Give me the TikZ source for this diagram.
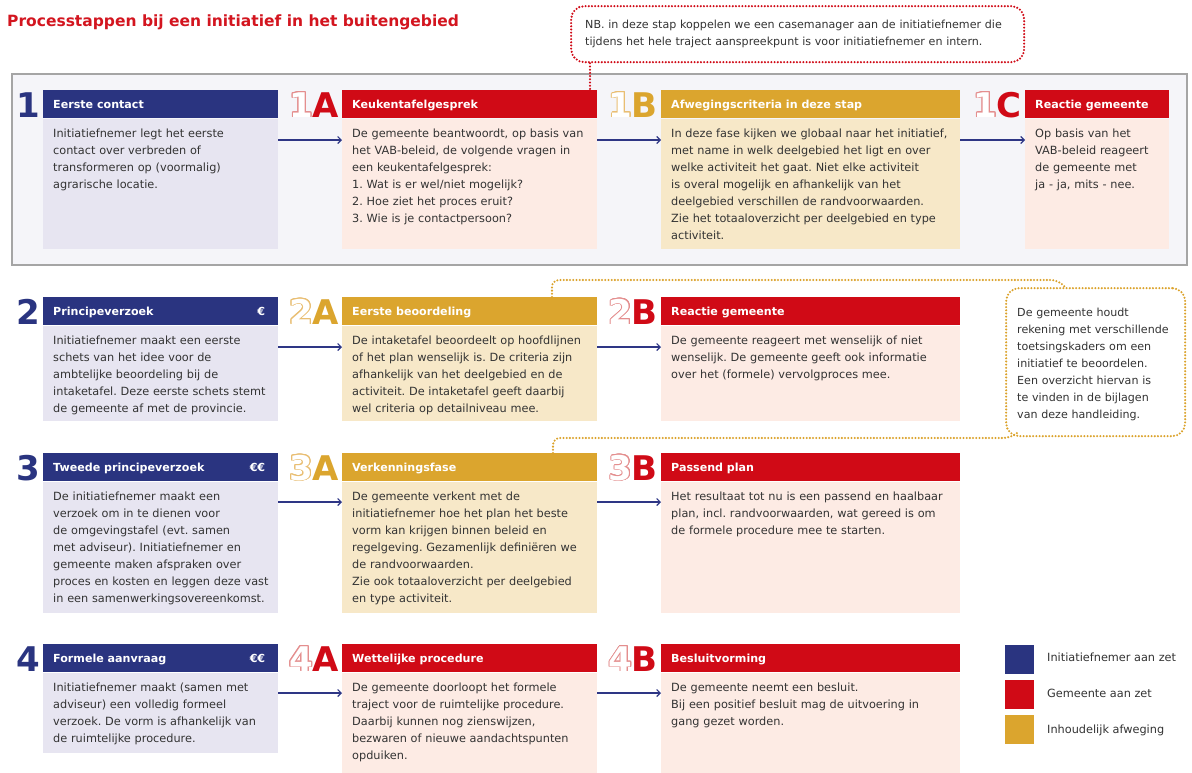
\documentclass[tikz,border=0pt]{standalone}
\usepackage{fontspec}
\setmainfont{DejaVu Sans}
\usepackage{contour}
\contourlength{0.9pt}
\usetikzlibrary{arrows.meta,calc}

\definecolor{blueH}{HTML}{2A3480}
\definecolor{blueB}{HTML}{E7E5F1}
\definecolor{redH}{HTML}{D00A16}
\definecolor{redB}{HTML}{FDEBE4}
\definecolor{redO}{HTML}{E48E8E}
\definecolor{goldH}{HTML}{DBA52E}
\definecolor{goldB}{HTML}{F7E8C8}
\definecolor{goldO}{HTML}{E9BE72}
\definecolor{arrowc}{HTML}{2E3685}
\definecolor{txt}{HTML}{333333}
\definecolor{panelF}{HTML}{F5F5F9}
\definecolor{panelB}{HTML}{A5A5A5}
\definecolor{titlered}{HTML}{D3151F}
\definecolor{dotred}{HTML}{D00A16}
\definecolor{dotgold}{HTML}{DBA22A}

\tikzset{
  hdrbox/.style={anchor=north west, inner sep=0pt, minimum height=28pt, draw=none},
  bodybox/.style={anchor=north west, inner sep=0pt, draw=none},
  hdrtext/.style={anchor=base west, inner sep=0pt, text=white, font=\fontsize{11.1}{14}\selectfont\bfseries},
  bodytext/.style={anchor=base west, inner sep=0pt, text=txt, align=left, text width=330pt, font=\fontsize{11.3}{17}\selectfont\frenchspacing},
  numfont/.style={inner sep=0pt, font=\fontsize{34}{36}\selectfont\bfseries},
  arr/.style={draw=arrowc, line width=1.1pt, -{Straight Barb[length=3.5pt,width=7pt]}},
  reddots/.style={draw=dotred, line width=2.3pt, line cap=round, dash pattern=on 0pt off 3.2pt},
  golddots/.style={draw=dotgold, line width=2.3pt, line cap=round, dash pattern=on 0pt off 3.2pt},
  legsq/.style={anchor=north west, inner sep=0pt, minimum width=30pt, minimum height=30pt, draw=white, line width=0.8pt},
  legtext/.style={anchor=base west, inner sep=0pt, text=txt, font=\fontsize{11.3}{17}\selectfont},
}

% #1 name, #2 x, #3 top, #4 width, #5 body height, #6 colour family, #7 header, #8 body
\newcommand\mkstep[8]{%
  \node[hdrbox, fill=#6H, minimum width=#4pt] (h#1) at (#2,#3) {};
  \node[bodybox, fill=#6B, minimum width=#4pt, minimum height=#5pt] (b#1) at (h#1.south west) {};
  \node[hdrtext] (ht#1) at ($(h#1.north west)+(10,18.5)$) {#7};
  \node[bodytext] (bt#1) at ($(h#1.north west)+(10,47)$) {#8};
}
% #1 name, #2 digit, #3 letter, #4 family, #5 baseline
\newcommand\mklabel[5]{%
  \node[numfont, text=#4H, anchor=base east, xshift=-3pt] (L#1) at (h#1.west |- 0,#5) {#3};
  \node[numfont, text=white, anchor=base east, xshift=1pt] (D#1) at (L#1.base west) {\contour{#4O}{#2}};
}
\newcommand\mknum[3]{%
  \node[numfont, text=blueH, anchor=base east, xshift=-3pt] (N#1) at (h#1.west |- 0,#3) {#2};
}

\begin{document}
\begin{tikzpicture}[x=1pt,y=-1pt]
\useasboundingbox[fill=white] (0,0) rectangle (1192,772);

% title
\node[anchor=base west, inner sep=0pt, text=titlered, font=\fontsize{15.5}{18}\selectfont\bfseries] (title) at (7,26) {Processtappen bij een initiatief in het buitengebied};

% row 1 panel
\node[anchor=north west, inner sep=0pt, draw=panelB, line width=1.5pt, fill=panelF, minimum width=1175pt, minimum height=191pt] (panel) at (11,73) {};

% NB callout
\node[anchor=north west, inner sep=0pt, minimum width=453pt, minimum height=56pt, rounded corners=13pt, reddots] (nb) at (570,5) {};
\node[anchor=base west, inner sep=0pt, text=txt, align=left, text width=440pt, font=\fontsize{11.1}{17}\selectfont\frenchspacing] (nbt) at (585,28) {NB. in deze stap koppelen we een casemanager aan de initiatiefnemer die\\tijdens het hele traject aanspreekpunt is voor initiatiefnemer en intern.};

% ---------- row 1
\mkstep{1}{43}{90}{235}{130}{blue}{Eerste contact}{Initiatiefnemer legt het eerste\\contact over verbreden of\\transformeren op (voormalig)\\agrarische locatie.}
\mkstep{1a}{342}{90}{255}{130}{red}{Keukentafelgesprek}{De gemeente beantwoordt, op basis van\\het VAB-beleid, de volgende vragen in\\een keukentafelgesprek:\\1. Wat is er wel/niet mogelijk?\\2. Hoe ziet het proces eruit?\\3. Wie is je contactpersoon?}
\mkstep{1b}{661}{90}{299}{130}{gold}{Afwegingscriteria in deze stap}{In deze fase kijken we globaal naar het initiatief,\\met name in welk deelgebied het ligt en over\\welke activiteit het gaat. Niet elke activiteit\\is overal mogelijk en afhankelijk van het\\deelgebied verschillen de randvoorwaarden.\\Zie het totaaloverzicht per deelgebied en type\\activiteit.}
\mkstep{1c}{1025}{90}{144}{130}{red}{Reactie gemeente}{Op basis van het\\VAB-beleid reageert\\de gemeente met\\ja - ja, mits - nee.}
\mknum{1}{1}{117}
\mklabel{1a}{1}{A}{red}{117}
\mklabel{1b}{1}{B}{gold}{117}
\mklabel{1c}{1}{C}{red}{117}
\coordinate (y1) at (0,140);
\draw[arr] (b1.east |- y1) -- (b1a.west |- y1);
\draw[arr] (b1a.east |- y1) -- (b1b.west |- y1);
\draw[arr] (b1b.east |- y1) -- (b1c.west |- y1);
\draw[reddots] (nb.south -| 590,0) -- (h1a.north -| 590,0);

% ---------- row 2
\mkstep{2}{43}{297}{235}{95}{blue}{Principeverzoek}{Initiatiefnemer maakt een eerste\\schets van het idee voor de\\ambtelijke beoordeling bij de\\intaketafel. Deze eerste schets stemt\\de gemeente af met de provincie.}
\mkstep{2a}{342}{297}{255}{95}{gold}{Eerste beoordeling}{De intaketafel beoordeelt op hoofdlijnen\\of het plan wenselijk is. De criteria zijn\\afhankelijk van het deelgebied en de\\activiteit. De intaketafel geeft daarbij\\wel criteria op detailniveau mee.}
\mkstep{2b}{661}{297}{299}{95}{red}{Reactie gemeente}{De gemeente reageert met wenselijk of niet\\wenselijk. De gemeente geeft ook informatie\\over het (formele) vervolgproces mee.}
\node[hdrtext, anchor=base east] (e2) at ($(h2.north east)+(-13,18.5)$) {€};
\mknum{2}{2}{324}
\mklabel{2a}{2}{A}{gold}{324}
\mklabel{2b}{2}{B}{red}{324}
\coordinate (y2) at (0,347);
\draw[arr] (b2.east |- y2) -- (b2a.west |- y2);
\draw[arr] (b2a.east |- y2) -- (b2b.west |- y2);

% gold callout
\node[anchor=north west, inner sep=0pt, minimum width=179pt, minimum height=148pt, rounded corners=13pt, golddots] (gc) at (1005,287) {};
\node[anchor=base west, inner sep=0pt, text=txt, align=left, text width=170pt, font=\fontsize{11.1}{17}\selectfont] (gct) at (1017,316) {De gemeente houdt\\rekening met verschillende\\toetsingskaders om een\\initiatief te beoordelen.\\Een overzicht hiervan is\\te vinden in de bijlagen\\van deze handleiding.};

% ---------- row 3
\mkstep{3}{43}{453}{235}{131}{blue}{Tweede principeverzoek}{De initiatiefnemer maakt een\\verzoek om in te dienen voor\\de omgevingstafel (evt. samen\\met adviseur). Initiatiefnemer en\\gemeente maken afspraken over\\proces en kosten en leggen deze vast\\in een samenwerkingsovereenkomst.}
\mkstep{3a}{342}{453}{255}{131}{gold}{Verkenningsfase}{De gemeente verkent met de\\initiatiefnemer hoe het plan het beste\\vorm kan krijgen binnen beleid en\\regelgeving. Gezamenlijk definiëren we\\de randvoorwaarden.\\Zie ook totaaloverzicht per deelgebied\\en type activiteit.}
\mkstep{3b}{661}{453}{299}{131}{red}{Passend plan}{Het resultaat tot nu is een passend en haalbaar\\plan, incl. randvoorwaarden, wat gereed is om\\de formele procedure mee te starten.}
\node[hdrtext, anchor=base east] (e3) at ($(h3.north east)+(-13,18.5)$) {€€};
\mknum{3}{3}{480}
\mklabel{3a}{3}{A}{gold}{480}
\mklabel{3b}{3}{B}{red}{480}
\coordinate (y3) at (0,502);
\draw[arr] (b3.east |- y3) -- (b3a.west |- y3);
\draw[arr] (b3a.east |- y3) -- (b3b.west |- y3);

% gold connectors
\draw[golddots, rounded corners=7pt] (h2a.north -| 552,0) |- (1058,280) -- (gc.north -| 1065,0);
\draw[golddots, rounded corners=7pt] (h3a.north -| 553,0) |- (1010,438) -- (1017,433);

% ---------- row 4
\mkstep{4}{43}{644}{235}{80}{blue}{Formele aanvraag}{Initiatiefnemer maakt (samen met\\adviseur) een volledig formeel\\verzoek. De vorm is afhankelijk van\\de ruimtelijke procedure.}
\mkstep{4a}{342}{644}{255}{100}{red}{Wettelijke procedure}{De gemeente doorloopt het formele\\traject voor de ruimtelijke procedure.\\Daarbij kunnen nog zienswijzen,\\bezwaren of nieuwe aandachtspunten\\opduiken.}
\mkstep{4b}{661}{644}{299}{100}{red}{Besluitvorming}{De gemeente neemt een besluit.\\Bij een positief besluit mag de uitvoering in\\gang gezet worden.}
\node[hdrtext, anchor=base east] (e4) at ($(h4.north east)+(-13,18.5)$) {€€};
\mknum{4}{4}{671}
\mklabel{4a}{4}{A}{red}{671}
\mklabel{4b}{4}{B}{red}{671}
\coordinate (y4) at (0,693);
\draw[arr] (b4.east |- y4) -- (b4a.west |- y4);
\draw[arr] (b4a.east |- y4) -- (b4b.west |- y4);

% legend
\node[legsq, fill=blueH] (lg1) at (1004,644) {};
\node[legsq, fill=redH] (lg2) at (1004,679) {};
\node[legsq, fill=goldH] (lg3) at (1004,714) {};
\node[legtext] (lt1) at (1047,661) {Initiatiefnemer aan zet};
\node[legtext] (lt2) at (1047,697) {Gemeente aan zet};
\node[legtext] (lt3) at (1047,733) {Inhoudelijk afweging};
\end{tikzpicture}
\end{document}
